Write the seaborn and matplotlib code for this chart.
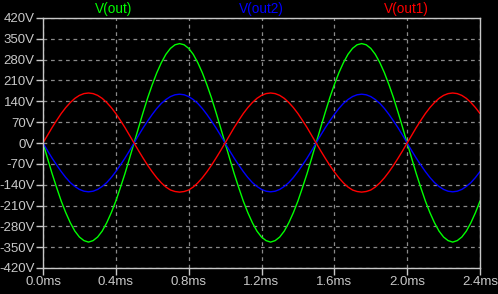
import matplotlib
matplotlib.use("Agg")
import matplotlib.pyplot as plt
import seaborn as sns
import pandas as pd
import numpy as np

time_ms = [round(i * 0.025, 3) for i in range(97)]

red_period = [0, 26, 52, 76, 99, 119, 136, 150, 160, 166, 168, 166, 160, 150, 136, 119, 99, 76, 52, 26,
              0, -26, -51, -75, -97, -117, -134, -148, -158, -163, -165, -163, -158, -148, -134, -117, -97, -75, -51, -26]
v_out1 = red_period + red_period + red_period[:17]

blue_period = [0, -26, -51, -74, -96, -116, -133, -146, -156, -162, -164, -162, -156, -146, -133, -116, -96, -74, -51, -26,
               0, 26, 51, 74, 96, 116, 133, 146, 156, 162, 164, 162, 156, 146, 133, 116, 96, 74, 51, 26]
v_out2 = blue_period + blue_period + blue_period[:17]

green_period = [0, -52, -103, -150, -195, -234, -268, -296, -316, -328, -333, -328, -316, -296, -268, -234, -195, -150, -103, -52,
                0, 52, 103, 152, 196, 236, 270, 298, 318, 330, 334, 330, 318, 298, 270, 236, 196, 152, 103, 52]
v_out = green_period + green_period + green_period[:17]

series_names = ["V(out)", "V(out2)", "V(out1)"]
series_colors = ["#00ff00", "#0000ff", "#ff0000"]

y_ticks = [-420, -350, -280, -210, -140, -70, 0, 70, 140, 210, 280, 350, 420]
y_labels = [f"{v}V" for v in y_ticks]
x_ticks = [0.0, 0.4, 0.8, 1.2, 1.6, 2.0, 2.4]
x_labels = ["0.0ms", "0.4ms", "0.8ms", "1.2ms", "1.6ms", "2.0ms", "2.4ms"]

df = pd.DataFrame({
    "t": time_ms * 3,
    "v": v_out + v_out2 + v_out1,
    "series": [series_names[0]] * 97 + [series_names[1]] * 97 + [series_names[2]] * 97,
})

sns.set_style("dark")
plt.rcParams["font.family"] = ["Liberation Sans", "DejaVu Sans"]

fig = plt.figure(figsize=(4.98, 2.94), dpi=100, facecolor="#000000")
ax = fig.add_axes([43 / 498, 26 / 294, 437 / 498, 250 / 294])
ax.set_facecolor("#000000")

sns.lineplot(data=df, x="t", y="v", hue="series", palette=dict(zip(series_names, series_colors)),
             hue_order=series_names, ax=ax, linewidth=1.0, legend=False, estimator=None, sort=False)

ax.set_xlim(0, 2.4)
ax.set_ylim(-420, 420)
ax.set_xticks(x_ticks)
ax.set_xticklabels(x_labels)
ax.set_yticks(y_ticks)
ax.set_yticklabels(y_labels)
ax.set_xlabel("")
ax.set_ylabel("")

ax.grid(True, color="#8a8a8a", linestyle=(0, (3, 3)), linewidth=0.9)
for s in ax.spines.values():
    s.set_visible(True)
    s.set_color("#c8c8c8")
    s.set_linewidth(1.0)
ax.tick_params(axis="both", colors="#c8c8c8", labelcolor="#c8c8c8", labelsize=9.5,
               length=5, width=1.0, direction="out", left=True, bottom=True, pad=1)

label_x = [114, 261, 406]
for name, color, x in zip(series_names, series_colors, label_x):
    fig.text(x / 498, 1 - 9 / 294, name, color=color, fontsize=9.8, ha="center", va="center")

fig.savefig("out.png", dpi=100, facecolor="#000000")
